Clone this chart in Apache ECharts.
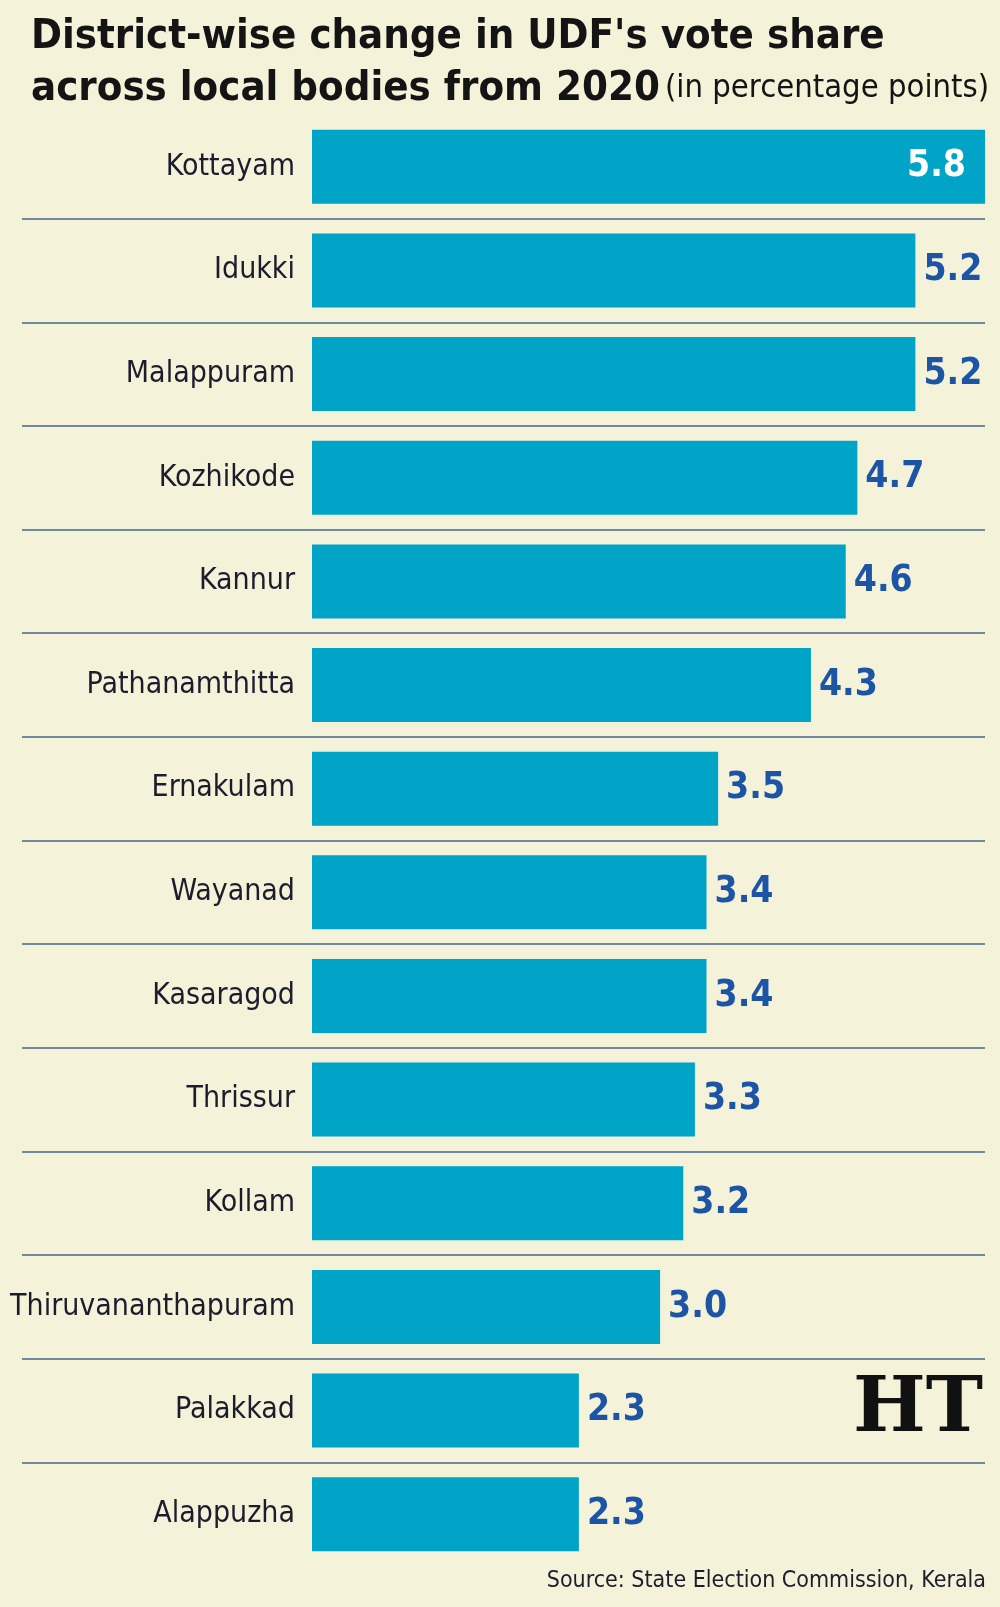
<!DOCTYPE html>
<html>
<head>
<meta charset="utf-8">
<script src="https://cdn.jsdelivr.net/npm/echarts@6/dist/echarts.min.js"></script>
<style>
  html, body { margin: 0; padding: 0; background: #f5f2da; }
  #chart { width: 1000px; height: 1607px; }
</style>
</head>
<body>
<div id="chart"></div>
<script>
const districts = [
  'Kottayam', 'Idukki', 'Malappuram', 'Kozhikode', 'Kannur', 'Pathanamthitta',
  'Ernakulam', 'Wayanad', 'Kasaragod', 'Thrissur', 'Kollam',
  'Thiruvananthapuram', 'Palakkad', 'Alappuzha'
]
const changes = [5.8, 5.2, 5.2, 4.7, 4.6, 4.3, 3.5, 3.4, 3.4, 3.3, 3.2, 3.0, 2.3, 2.3]

const titleLine1 = "District-wise change in UDF's vote share"
const titleLine2 = 'across local bodies from 2020'
const titleUnit = '(in percentage points)'
const source = 'Source: State Election Commission, Kerala'

const narrow = "'DejaVu Sans Condensed', 'DejaVu Sans', sans-serif"
const barColor = '#00a4c7'
const valueColor = '#1d55a6'

const maxVal = Math.max(...changes)
const barData = changes.map(v =>
  v === maxVal
    ? { value: v, label: { position: 'insideRight', color: '#ffffff', distance: 19 } }
    : v
)

const chart = echarts.init(document.getElementById('chart'), null, { renderer: 'canvas' })

const option = {
  animation: false,
  backgroundColor: '#f5f2da',
  title: {
    left: 26,
    top: 6,
    text: '{b|' + titleLine1 + '}\n{b|' + titleLine2 + '} {n|' + titleUnit + '}',
    textStyle: {
      rich: {
        b: { fontFamily: narrow, fontSize: 41.5, fontWeight: 'bold', color: '#141414', lineHeight: 52 },
        n: { fontFamily: narrow, fontSize: 32.5, fontWeight: 'normal', color: '#141414', lineHeight: 52 }
      }
    }
  },
  grid: [
    { left: 312, right: 15, top: 115, bottom: 41, outerBoundsMode: 'none', containLabel: false },
    { left: 22, right: 15, top: 115, bottom: 41, outerBoundsMode: 'none', containLabel: false }
  ],
  xAxis: [
    { type: 'value', min: 0, max: maxVal, show: false, gridIndex: 0 },
    { type: 'value', show: false, gridIndex: 1 }
  ],
  yAxis: [
    {
      type: 'category',
      data: districts,
      inverse: true,
      gridIndex: 0,
      axisLine: { show: false },
      axisTick: { show: false },
      axisLabel: { fontFamily: narrow, fontSize: 30, color: '#1c1c2c', margin: 17 }
    },
    {
      type: 'category',
      data: districts,
      inverse: true,
      gridIndex: 1,
      axisLine: { show: false },
      axisTick: { show: false },
      axisLabel: { show: false },
      splitLine: {
        show: true,
        showMinLine: false,
        showMaxLine: false,
        lineStyle: { color: '#7089a0', width: 2 }
      }
    }
  ],
  series: [
    {
      type: 'bar',
      xAxisIndex: 0,
      yAxisIndex: 0,
      data: barData,
      barWidth: 74,
      itemStyle: { color: barColor },
      label: {
        show: true,
        position: 'right',
        distance: 8,
        fontFamily: narrow,
        fontSize: 37,
        fontWeight: 'bold',
        color: valueColor,
        formatter: p => p.value.toFixed(1)
      },
      z: 3
    }
  ],
  graphic: [
    {
      type: 'text',
      left: 853,
      top: 1372,
      style: { text: 'HT', font: 'bold 77px "DejaVu Serif", serif', fill: '#111111' }
    },
    {
      type: 'text',
      right: 14,
      top: 1570,
      style: { text: source, font: '23px ' + narrow, fill: '#1c1c2c' }
    }
  ]
}

chart.setOption(option)
</script>
</body>
</html>
